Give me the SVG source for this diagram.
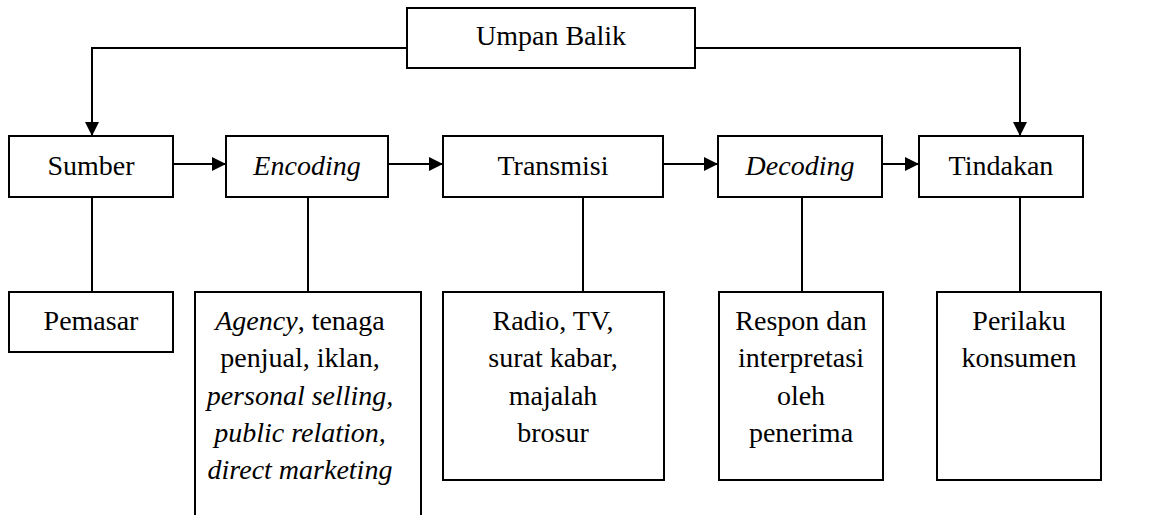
<svg xmlns="http://www.w3.org/2000/svg" width="1159" height="515" viewBox="0 0 1159 515">
<style>
.box{fill:#fff;stroke:#000;stroke-width:2}
.ln{fill:none;stroke:#000;stroke-width:2}
text{font-family:"Liberation Serif","Times New Roman",serif;font-size:28px;fill:#000;text-anchor:middle}
.i{font-style:italic}
</style>
<defs>
<marker id="ah" markerUnits="userSpaceOnUse" markerWidth="15" markerHeight="15" refX="14" refY="7" orient="auto">
<path d="M0,0 L14,7 L0,14 Z" fill="#000"/>
</marker>
</defs>
<rect width="1159" height="515" fill="#fff"/>
<g id="connectors">
<path class="ln" d="M407,48 H92 V136" marker-end="url(#ah)"/>
<path class="ln" d="M695,48 H1020 V136" marker-end="url(#ah)"/>
<path class="ln" d="M173,164 H226" marker-end="url(#ah)"/>
<path class="ln" d="M388,164 H443" marker-end="url(#ah)"/>
<path class="ln" d="M663,164 H718" marker-end="url(#ah)"/>
<path class="ln" d="M882,164 H919" marker-end="url(#ah)"/>
<path class="ln" d="M92,197 V292"/>
<path class="ln" d="M308,197 V292"/>
<path class="ln" d="M583,197 V292"/>
<path class="ln" d="M802,197 V292"/>
<path class="ln" d="M1020,197 V292"/>
</g>
<g id="umpan-balik"><rect class="box" x="407" y="8" width="288" height="60"/><text x="551" y="45">Umpan Balik</text></g>
<g id="sumber"><rect class="box" x="9" y="136" width="164" height="61"/><text x="91" y="175">Sumber</text></g>
<g id="encoding"><rect class="box" x="226" y="136" width="162" height="61"/><text class="i" x="307" y="175">Encoding</text></g>
<g id="transmisi"><rect class="box" x="443" y="136" width="220" height="61"/><text x="553" y="175">Transmisi</text></g>
<g id="decoding"><rect class="box" x="718" y="136" width="164" height="61"/><text class="i" x="800" y="175">Decoding</text></g>
<g id="tindakan"><rect class="box" x="919" y="136" width="164" height="61"/><text x="1001" y="175">Tindakan</text></g>
<g id="pemasar"><rect class="box" x="9" y="292" width="164" height="60"/><text x="91" y="330">Pemasar</text></g>
<g id="agency"><rect class="box" x="195" y="292" width="226" height="240"/>
<text x="300" y="330"><tspan class="i">Agency</tspan>, tenaga</text>
<text x="300" y="367">penjual, iklan,</text>
<text class="i" x="300" y="405">personal selling,</text>
<text class="i" x="300" y="442">public relation,</text>
<text class="i" x="300" y="479">direct marketing</text></g>
<g id="media"><rect class="box" x="443" y="292" width="221" height="188"/>
<text x="553" y="330">Radio, TV,</text>
<text x="553" y="367">surat kabar,</text>
<text x="553" y="405">majalah</text>
<text x="553" y="442">brosur</text></g>
<g id="respon"><rect class="box" x="719" y="292" width="164" height="188"/>
<text x="801" y="330">Respon dan</text>
<text x="801" y="367">interpretasi</text>
<text x="801" y="405">oleh</text>
<text x="801" y="442">penerima</text></g>
<g id="perilaku"><rect class="box" x="937" y="292" width="164" height="188"/>
<text x="1019" y="330">Perilaku</text>
<text x="1019" y="367">konsumen</text></g>
</svg>
